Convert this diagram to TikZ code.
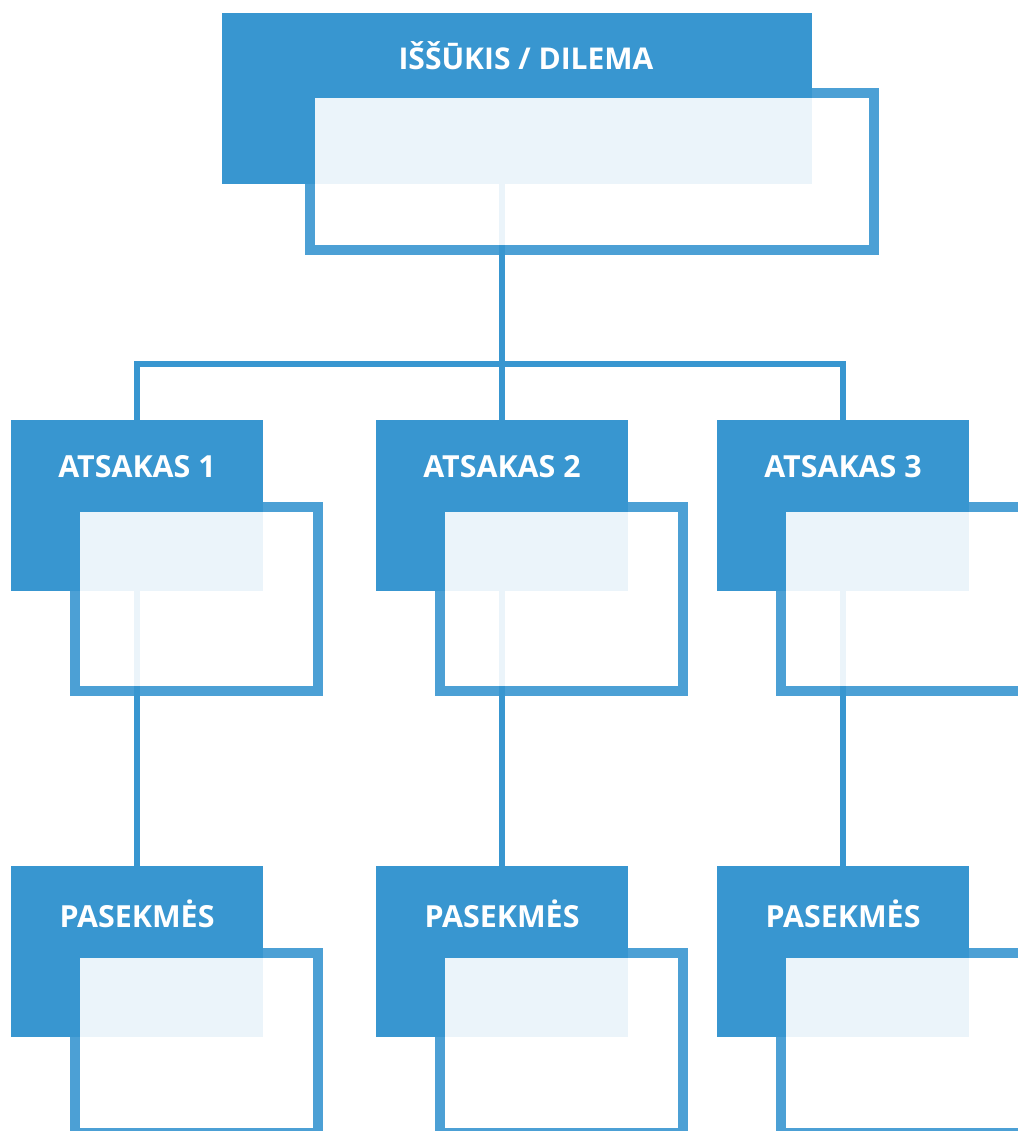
\documentclass[tikz,border=0pt]{standalone}
\usepackage{fontspec}
\setmainfont{Open Sans}
\usetikzlibrary{positioning}
\definecolor{boxblue}{HTML}{3896D0}

\begin{document}
\begin{tikzpicture}[x=0.5pt, y=-0.5pt,
	solidbox/.style={fill=boxblue, inner sep=0pt, outer sep=0pt, anchor=north west,
		minimum width=126pt, minimum height=85.25pt},
	seethru/.style={fill=white, fill opacity=0.9, inner sep=0pt, outer sep=0pt,
		anchor=north west, minimum width=116.65pt, minimum height=86.7pt},
	framepen/.style={draw=boxblue, draw opacity=0.9, line width=5pt},
	boxlabel/.style={text=white, font=\bfseries\fontsize{15.2}{18}\selectfont, inner sep=0pt},
	link/.style={draw=boxblue, line width=3pt}]
		
		% one unit = one pixel, y runs downwards
		\clip (0,0) rectangle (1018,1131);
		
		% --- Top box: the dilemma ---
		\node[solidbox, minimum width=295pt, minimum height=85.5pt] (dil) at (222,13) {};
		\node[boxlabel, font=\bfseries\fontsize{15}{18}\selectfont] (dilT)
		at ([shift={(9,42.5)}]dil.north) {IŠŠŪKIS / DILEMA};
		
		% --- Responses (row 1) and their consequences (row 2) ---
		\foreach \i/\x in {1/11, 2/376, 3/717} {
			\node[solidbox] (ats\i) at (\x,420) {};
			\node[boxlabel] (atsT\i) at ([yshift=-23.5pt]ats\i.north) {ATSAKAS \i};
			\node[solidbox] (pas\i) at (\x,866) {};
			\node[boxlabel] (pasT\i) at ([yshift=-24pt]pas\i.north) {PASEKMĖS};
		}
		
		% --- Connectors (drawn before the frames, so they show through faintly) ---
		\coordinate (bus) at (0,364);
		\draw[link] (dil.south -| ats2.north) -- (ats2.north);
		\draw[link] (ats1.north) -- (ats1.north |- bus) -- (ats3.north |- bus) -- (ats3.north);
		\foreach \i in {1,2,3}
			\draw[link] (ats\i.south) -- (pas\i.north);
		
		% --- Frames: see-through white inside, blue pen just outside it ---
		\node[seethru, minimum width=277pt, minimum height=73.65pt] (dilF)
		at ([shift={(93,84.7)}]dil.north west) {};
		\draw[framepen] ([shift={(-2.5pt,2.5pt)}]dilF.north west)
		rectangle ([shift={(2.5pt,-2.5pt)}]dilF.south east);
		
		\foreach \i in {1,2,3} {
			\node[seethru] (atsF\i) at ([shift={(69,92.3)}]ats\i.north west) {};
			\draw[framepen] ([shift={(-2.5pt,2.5pt)}]atsF\i.north west)
			rectangle ([shift={(2.5pt,-2.5pt)}]atsF\i.south east);
			
			\node[seethru, minimum height=85.3pt] (pasF\i) at ([shift={(69,91.7)}]pas\i.north west) {};
			\draw[framepen] ([shift={(-2.5pt,2.5pt)}]pasF\i.north west)
			rectangle ([shift={(2.5pt,-2.5pt)}]pasF\i.south east);
		}
		
	\end{tikzpicture}
\end{document}
